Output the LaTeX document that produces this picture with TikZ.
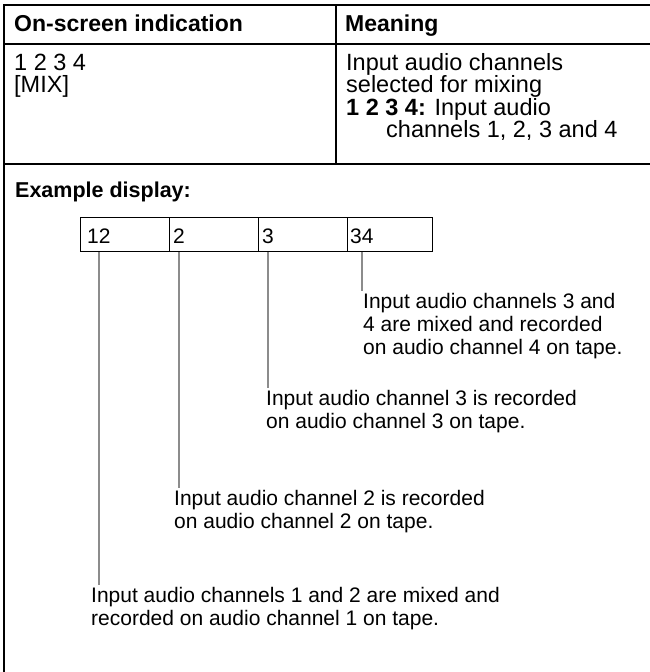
\documentclass[tikz,border=0pt]{standalone}
\usepackage{fontspec}
\setmainfont{Liberation Sans}
\begin{document}
\begin{tikzpicture}[x=1pt, y=-1pt, every node/.style={inner sep=0pt, align=left, anchor=base west},
    rule/.style={line width=2.4pt},
    cell/.style={draw, line width=1.2pt, anchor=north west, minimum height=34pt},
    lead/.style={line width=1.5pt, black!45, shorten >=2pt},
    head/.style={font=\fontsize{23}{23}\selectfont\bfseries},
    body/.style={font=\fontsize{23.5}{22.5}\selectfont},
    note/.style={font=\fontsize{21}{23}\selectfont}]
    \useasboundingbox (0,0) rectangle (650,672);
    % the table is open on the right and at the bottom
    \draw[rule] (650,5) -| (4,672);
    \draw[rule] (4,44) -- (650,44);
    \draw[rule] (4,164) -- (650,164);
    \draw[rule] (336,5) -- (336,164);
    \node[head] (hind) at (14,31) {On-screen indication};
    \node[head] (hmean) at (345,31) {Meaning};
    % multi-line nodes sit on the baseline of their last line
    \node[body] (ind) at (14,92.5) {1 2 3 4\\{[MIX]}};
    \node[body] (mean) at (346,137.5) {Input audio channels\\selected for mixing\\\textbf{1 2 3 4:} Input audio\\\hspace*{40pt}channels 1, 2, 3 and 4};
    \node[head, font=\fontsize{21.5}{23}\selectfont\bfseries] (exhead) at (15,197) {Example display:};
    \node[cell, minimum width=89pt] (c1) at (80,217) {};
    \node[cell, minimum width=89pt] (c2) at (169,217) {};
    \node[cell, minimum width=89pt] (c3) at (258,217) {};
    \node[cell, minimum width=85pt] (c4) at (347,217) {};
    \node[note] (t1) at (87,243) {12};
    \node[note] (t2) at (173,243) {2};
    \node[note] (t3) at (262,243) {3};
    \node[note] (t4) at (350,243) {34};
    \node[note] (lab4) at (363,354) {Input audio channels 3 and\\4 are mixed and recorded\\on audio channel 4 on tape.};
    \node[note] (lab3) at (266,428) {Input audio channel 3 is recorded\\on audio channel 3 on tape.};
    \node[note] (lab2) at (174,528) {Input audio channel 2 is recorded\\on audio channel 2 on tape.};
    \node[note] (lab1) at (91,625) {Input audio channels 1 and 2 are mixed and\\recorded on audio channel 1 on tape.};
    \draw[lead] (t1 |- c1.south) -- (t1 |- lab1.north);
    \draw[lead] (t2 |- c2.south) -- (t2 |- lab2.north);
    \draw[lead] (t3 |- c3.south) -- (t3 |- lab3.north);
    \draw[lead] (t4 |- c4.south) -- (t4 |- lab4.north);
\end{tikzpicture}
\end{document}
